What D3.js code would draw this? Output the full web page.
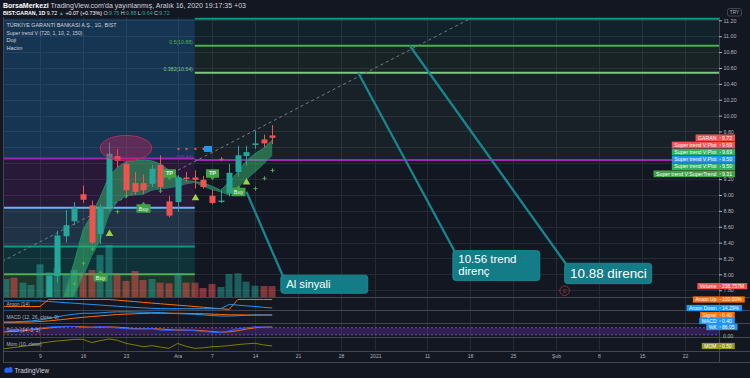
<!DOCTYPE html>
<html>
<head>
<meta charset="utf-8">
<script src="https://cdn.jsdelivr.net/npm/d3@7"></script>
<style>
  html, body { margin: 0; padding: 0; background: #131722; }
  svg { display: block; font-family: "Liberation Sans", Arial, sans-serif; }
</style>
</head>
<body>
<svg id="chart" width="750" height="378"></svg>
<script>
// BIST:GARAN daily bars
const dates = ["2020-11-02","2020-11-03","2020-11-04","2020-11-05","2020-11-06",
  "2020-11-09","2020-11-10","2020-11-11","2020-11-12","2020-11-13",
  "2020-11-16","2020-11-17","2020-11-18","2020-11-19","2020-11-20",
  "2020-11-23","2020-11-24","2020-11-25","2020-11-26","2020-11-27",
  "2020-11-30","2020-12-01","2020-12-02","2020-12-03","2020-12-04",
  "2020-12-07","2020-12-08","2020-12-09","2020-12-10","2020-12-11",
  "2020-12-14","2020-12-15","2020-12-16"];
const open  = [6.05,6.10,6.20,6.18,6.42, 6.95,7.40,7.98,8.48,8.67, 9.01,8.87,8.51,8.85,9.49, 9.39,9.15,9.15,9.14,9.38, 8.92,8.91,9.22,9.22,9.19, 8.99,8.92,9.02,9.29,9.49, 9.63,9.70,9.75];
const high  = [6.15,6.25,6.35,6.45,6.65, 7.30,8.00,8.55,8.81,8.91, 9.12,8.93,8.88,9.66,9.58, 9.42,9.29,9.26,9.38,9.50, 8.99,9.25,9.29,9.31,9.24, 9.07,9.06,9.39,9.62,9.62, 9.81,9.76,9.88];
const low   = [5.95,6.05,6.10,6.15,6.40, 6.90,7.35,7.90,8.40,8.62, 8.90,8.38,8.38,8.80,9.35, 9.00,9.00,9.01,9.10,9.06, 8.72,8.79,9.16,9.08,9.08, 8.88,8.90,8.98,9.23,9.37, 9.58,9.60,9.64];
const close = [6.00,6.20,6.15,6.40,6.60, 7.26,7.98,8.49,8.62,8.84, 8.94,8.40,8.85,9.52,9.43, 9.06,9.04,9.06,9.33,9.10, 8.74,9.22,9.22,9.19,9.10, 8.90,8.93,9.28,9.50,9.54, 9.65,9.65,9.72];
// volume, millions
const volume = [350,396,425,315,264, 719,543,638,484,594, 535,594,924,1144,499, 352,572,374,396,315, 301,521,315,315,198, 286,220,506,521,337, 249,242,238.757];

// Super trend V cloud (two plots) and SuperTrend crosses
const stUpper = [null,null,null,null,null,null,null, 7.45,7.80,8.16,8.56,8.75,8.97,9.23,9.35,9.42,9.43,9.44,9.43,9.39,9.31,9.23,9.18,9.17,9.15,9.11,9.06,9.16,9.29,9.43,9.52,9.59,9.69];
const stLower = [null,null,null,null,null,null,null, 7.17,7.43,7.74,7.97,8.23,8.43,8.75,8.92,8.99,9.00,9.01,9.06,9.08,9.09,9.11,9.14,9.16,9.11,9.07,9.04,9.00,9.09,9.20,9.29,9.39,9.50];
const crossDates  = ["2020-11-13","2020-11-16","2020-11-17","2020-11-20","2020-11-23","2020-11-27","2020-12-14","2020-12-15","2020-12-16"];
const crossPrices = [7.88, 8.14, 8.32, 8.79, 8.99, 9.05, 9.08, 9.21, 9.31];
const redDotDates = ["2020-12-01","2020-12-02","2020-12-03","2020-12-04"];
const redDotPrice = 9.58;
const redCross = {date: "2020-12-08", price: 9.45};
const blueMark = {date: "2020-12-04", price: 9.58};
const triDates  = ["2020-11-19","2020-12-03","2020-12-11"];
const triPrices = [8.52, 8.97, 9.17];
const tpDates  = ["2020-11-30","2020-12-07"];
const tpPrices = [9.18, 9.18];
const buyDates  = ["2020-11-18","2020-11-25","2020-12-10"];
const buyPrices = [8.055, 8.92, 9.13];

// lower panes
const aroonUp   = [29,29,29,29,29,29, 100,100,100,100,100,100,100,100, 93,86,79,71,64,57,50,43,36,29,21,14,7, 0, 100,100,100,100,100];
const aroonDown = [86,86,86,86,86,86, 80,74,68,62,56,50,44,38,32,26,20,15,11,8, 7,7,7,7,7,7,7, 50,43,36,29,21,14.29];
const macdLine  = [0.00,0.00,0.01,0.03,0.06, 0.12,0.20,0.30,0.38,0.45, 0.50,0.50,0.52,0.56,0.58, 0.58,0.57,0.56,0.55,0.54, 0.50,0.48,0.46,0.44,0.41, 0.37,0.34,0.34,0.36,0.38, 0.40,0.40,0.40];
const macdSignal= [-0.02,-0.02,-0.02,-0.01,0.00, 0.03,0.06,0.11,0.16,0.22, 0.27,0.31,0.35,0.39,0.43, 0.45,0.47,0.49,0.50,0.50, 0.50,0.50,0.49,0.48,0.47, 0.45,0.43,0.41,0.41,0.40, 0.40,0.40,0.40];
const stochK = [45,50,55,62,70, 78,86,90,92,90, 82,84,90,86,78, 72,70,72,74,60, 58,62,60,55,48, 42,38,55,72,80, 88,86,86.05];
const stochD = [40,45,50,56,62, 70,78,85,89,91, 88,85,85,87,85, 79,73,71,72,69, 64,60,60,59,54, 48,43,45,55,69, 80,85,87];
const momentum = [-0.5,-0.2,0.1,0.4,0.8, 1.25,1.6,1.9,2.1,2.35, 2.35,1.45,2.0,2.45,2.1, 1.25,0.8,0.3,0.6,0.2, -0.15,1.2,0.4,-0.15,0.0, 0.3,0.4,0.6,0.9,1.1, 1.25,0.8,0.5];

// drawings
const leftFibLevels  = [11.22, 9.46, 8.84, 8.35, 8.00];
const rightFibLevels = [11.22, 10.88, 10.54, 9.44];
const rightFibLabels = ["", "0.5(10.88)", "0.382(10.54)", "0(9.44)"];
const fibSplitDate = "2020-12-03";
const trendFrom = {date: "2020-11-02", price: 8.13};
const trendTo   = {date: "2021-01-18", price: 11.22};
const ellipseBox = {from: "2020-11-18", to: "2020-11-26", top: 9.75, bottom: 9.43};
const callouts = [
  {lines: ["Al sinyali"], fromDate: "2020-12-11", fromPrice: 9.04, boxDate: "2020-12-17", boxPrice: 7.99},
  {lines: ["10.56 trend", "direnç"], fromDate: "2020-12-30", fromPrice: 10.54, boxDate: "2021-01-14", boxPrice: 8.30},
  {lines: ["10.88 direnci"], fromDate: "2021-01-07", fromPrice: 10.88, boxDate: "2021-02-02", boxPrice: 8.14}
];
const eventDate = "2021-02-02";

const priceTicks = [7.8,8.0,8.2,8.4,8.6,8.8,9.0,9.2,9.4,9.6,9.8,10.0,10.2,10.4,10.6,10.8,11.0,11.2];
const xTickDates  = ["2020-11-09","2020-11-16","2020-11-23","2020-12-01","2020-12-07","2020-12-14","2020-12-21","2020-12-28","2021-01-01","2021-01-11","2021-01-18","2021-01-25","2021-02-01","2021-02-08","2021-02-15","2021-02-22"];
const xTickLabels = ["9","16","23","Ara","7","14","21","28","2021","11","18","25","Şub","8","15","22"];

// ---- layout / styles ----
const svg = d3.select("#chart");
const W = 750, H = 378;
const plotL = 3, plotR = 719, mainTop = 17, mainBot = 297;
const paneEdges = [297, 310.3, 323.3, 336.7, 351];
const axisBot = 362;
const upCol = "#26a69a", downCol = "#ef5350";
const gridCol = "#262a35", frameCol = "#434651", textCol = "#b2b5be";

const t0 = new Date(Date.UTC(2020, 10, 2));
function barIndex(s) {
  const d = new Date(s + "T00:00:00Z");
  return d3.utcDays(t0, d).filter(v => v.getUTCDay() % 6 !== 0).length;
}
const x = d3.scaleLinear().domain([0, 84]).range([-3, -3 + 84 * 8.6]);
const y = d3.scaleLinear().domain([7.715, 11.242]).range([mainBot, mainTop]);
const volY = d3.scaleLinear().domain([0, 1200]).range([mainBot, mainBot - 1200 / 22]);
const aroonY = d3.scaleLinear().domain([0, 100]).range([309.4, 299.5]);
const macdY = d3.scaleLinear().domain([0, 0.4]).range([322, 315]);
const stochY = d3.scaleLinear().domain([0, 100]).range([337.2, 325.4]);
const momY = d3.scaleLinear().domain([0, 0.5]).range([347.8, 346]);

const bars = dates.map((d, i) => ({i: barIndex(d), o: open[i], h: high[i], l: low[i], c: close[i], v: volume[i]}));
const px = i => Math.round(x(i));

svg.append("rect").attr("width", W).attr("height", H).attr("fill", "#131722");

const defs = svg.append("defs");
function clip(id, y0, y1) {
  defs.append("clipPath").attr("id", id).append("rect")
    .attr("x", plotL).attr("y", y0).attr("width", plotR - plotL).attr("height", y1 - y0);
  return "url(#" + id + ")";
}
const mainClip = clip("clip-main", mainTop, mainBot);
const paneClips = [0, 1, 2, 3].map(k => clip("clip-pane" + k, paneEdges[k], paneEdges[k + 1]));

// grid
const gridG = svg.append("g");
gridG.selectAll("line.v").data(xTickDates).join("line")
  .attr("x1", d => px(barIndex(d)) + 0.5).attr("x2", d => px(barIndex(d)) + 0.5)
  .attr("y1", mainTop).attr("y2", paneEdges[4])
  .attr("stroke", gridCol);
gridG.selectAll("line.h").data(priceTicks).join("line")
  .attr("x1", plotL).attr("x2", plotR)
  .attr("y1", d => Math.round(y(d)) + 0.5).attr("y2", d => Math.round(y(d)) + 0.5)
  .attr("stroke", gridCol);

const main = svg.append("g").attr("clip-path", mainClip);

// fib zones
const splitX = x(barIndex(fibSplitDate));
const leftFills = ["rgba(33,150,243,0.24)", "rgba(156,39,176,0.16)", "rgba(100,181,246,0.17)", "rgba(0,150,136,0.22)", "rgba(76,175,80,0.2)"];
const leftLineCols = [null, "#9c27b0", "#64b5f6", "#089981", "#4caf50"];
leftFibLevels.forEach((lv, k) => {
  const next = k + 1 < leftFibLevels.length ? leftFibLevels[k + 1] : y.domain()[0];
  main.append("rect").attr("x", plotL).attr("width", splitX - plotL)
    .attr("y", y(lv)).attr("height", y(next) - y(lv)).attr("fill", leftFills[k]);
  if (leftLineCols[k]) main.append("line").attr("x1", plotL).attr("x2", splitX)
    .attr("y1", y(lv)).attr("y2", y(lv)).attr("stroke", leftLineCols[k]).attr("stroke-width", 2);
});
const rightFills = ["rgba(0,150,136,0.09)", "rgba(76,175,80,0.08)", "rgba(129,199,132,0.06)"];
const rightLineCols = ["#089981", "#4caf50", "#81c784", "#9c27b0"];
rightFibLevels.forEach((lv, k) => {
  if (k + 1 < rightFibLevels.length)
    main.append("rect").attr("x", splitX).attr("width", plotR - splitX)
      .attr("y", y(lv)).attr("height", y(rightFibLevels[k + 1]) - y(lv)).attr("fill", rightFills[k]);
});
rightFibLevels.forEach((lv, k) => {
  main.append("line").attr("x1", splitX).attr("x2", plotR)
    .attr("y1", y(lv)).attr("y2", y(lv)).attr("stroke", rightLineCols[k]).attr("stroke-width", 2);
  if (rightFibLabels[k]) main.append("text").attr("x", splitX - 2).attr("y", y(lv) - 1.3)
    .attr("text-anchor", "end").attr("font-size", 5.2).attr("fill", rightLineCols[k]).text(rightFibLabels[k]);
});

// volume
main.append("g").selectAll("rect").data(bars).join("rect")
  .attr("x", d => px(d.i) - 3.5).attr("width", 7)
  .attr("y", d => volY(d.v)).attr("height", d => mainBot - volY(d.v))
  .attr("fill", d => d.c > d.o ? "rgba(38,166,154,0.5)" : "rgba(239,83,80,0.5)");

// super trend cloud
const bandData = bars.map((b, k) => ({i: b.i, u: stUpper[k], l: stLower[k]}));
main.append("path").datum(bandData)
  .attr("d", d3.area().defined(d => d.u != null).x(d => x(d.i)).y0(d => y(d.l)).y1(d => y(d.u)))
  .attr("fill", "rgba(60,185,110,0.5)");
[["u", "#1f8a6a"], ["l", "#1c7a70"]].forEach(([key, col]) => {
  main.append("path").datum(bandData)
    .attr("d", d3.line().defined(d => d[key] != null).x(d => x(d.i)).y(d => y(d[key])))
    .attr("fill", "none").attr("stroke", col).attr("stroke-width", 1);
});

// dashed trend line
main.append("line")
  .attr("x1", x(barIndex(trendFrom.date))).attr("y1", y(trendFrom.price))
  .attr("x2", x(barIndex(trendTo.date))).attr("y2", y(trendTo.price))
  .attr("stroke", "#787b86").attr("stroke-width", 1).attr("stroke-dasharray", "3,3");

// candles
const candleG = main.append("g");
candleG.selectAll("line").data(bars).join("line")
  .attr("x1", d => px(d.i) + 0.5).attr("x2", d => px(d.i) + 0.5)
  .attr("y1", d => y(d.h)).attr("y2", d => y(d.l))
  .attr("stroke", d => d.c > d.o ? upCol : downCol);
candleG.selectAll("rect").data(bars).join("rect")
  .attr("x", d => px(d.i) - 2.5).attr("width", 6)
  .attr("y", d => y(Math.max(d.o, d.c)))
  .attr("height", d => Math.max(1.5, Math.abs(y(d.o) - y(d.c))))
  .attr("fill", d => d.c > d.o ? upCol : downCol);

// ellipse drawing
{
  const x1 = x(barIndex(ellipseBox.from)), x2 = x(barIndex(ellipseBox.to));
  const y1 = y(ellipseBox.top), y2 = y(ellipseBox.bottom);
  main.append("ellipse").attr("cx", (x1 + x2) / 2).attr("cy", (y1 + y2) / 2)
    .attr("rx", (x2 - x1) / 2).attr("ry", (y2 - y1) / 2)
    .attr("fill", "rgba(233,30,99,0.33)").attr("stroke", "#b0305f").attr("stroke-width", 1);
}

// markers
const mk = main.append("g");
mk.selectAll("rect.rd").data(redDotDates).join("rect")
  .attr("x", d => px(barIndex(d)) - 0.5).attr("y", y(redDotPrice) - 1)
  .attr("width", 2).attr("height", 2).attr("fill", "#ef5350");
mk.append("rect").attr("x", px(barIndex(blueMark.date)) + 1).attr("y", y(blueMark.price) - 3)
  .attr("width", 8).attr("height", 6).attr("fill", "#2196f3");
function plus(g, cx, cy, col) {
  g.append("path").attr("d", `M${cx - 2},${cy}H${cx + 2}M${cx},${cy - 2}V${cy + 2}`)
    .attr("stroke", col).attr("stroke-width", 1);
}
plus(mk, px(barIndex(redCross.date)) + 0.5, y(redCross.price), "#ef5350");
crossDates.forEach((d, k) => plus(mk, px(barIndex(d)) + 0.5, y(crossPrices[k]), "#4caf50"));
triDates.forEach((d, k) => {
  const cx = px(barIndex(d)) + 0.5, cy = y(triPrices[k]);
  mk.append("path").attr("d", `M${cx},${cy - 3.5}L${cx + 3.8},${cy + 3}L${cx - 3.8},${cy + 3}Z`).attr("fill", "#9bd33d");
});
tpDates.forEach((d, k) => {
  const cx = px(barIndex(d)) + 0.5, tip = y(tpPrices[k]);
  mk.append("path").attr("d", `M${cx - 6.5},${tip - 11.5}h13v8.5h-4.5l-2,2.5l-2,-2.5h-4.5Z`).attr("fill", "#43a047");
  mk.append("text").attr("x", cx).attr("y", tip - 5.2).attr("text-anchor", "middle")
    .attr("font-size", 5.5).attr("font-weight", "bold").attr("fill", "#e8f5e9").text("TP");
});
buyDates.forEach((d, k) => {
  const cx = px(barIndex(d)) + 0.5, tip = y(buyPrices[k]);
  mk.append("path").attr("d", `M${cx - 7},${tip + 3}h5l2,-2.5l2,2.5h5v8.5h-14Z`).attr("fill", "#43a047");
  mk.append("text").attr("x", cx).attr("y", tip + 9.6).attr("text-anchor", "middle")
    .attr("font-size", 5.5).attr("fill", "#e8f5e9").text("Buy");
});

// event marker
{
  const cx = x(barIndex(eventDate)), cy = mainBot - 6.3;
  main.append("circle").attr("cx", cx).attr("cy", cy).attr("r", 4.8)
    .attr("fill", "none").attr("stroke", "#8a2d3b").attr("stroke-width", 1);
  main.append("text").attr("x", cx).attr("y", cy + 2).attr("text-anchor", "middle")
    .attr("font-size", 5.5).attr("fill", "#8a2d3b").text("E");
}

// callouts
const calloutFont = [11.2, 11.5, 13.4];
const calloutW = 87, calloutCol = "#137c86", calloutLine = "#16868f";
callouts.forEach((c, k) => {
  const x1 = x(barIndex(c.fromDate)), y1 = y(c.fromPrice);
  const bx = x(barIndex(c.boxDate)), by = y(c.boxPrice);
  const fs = calloutFont[k];
  main.append("line").attr("x1", x1).attr("y1", y1).attr("x2", bx + 3).attr("y2", by + 3)
    .attr("stroke", calloutLine).attr("stroke-width", 2.3);
  const h = c.lines.length * fs + 7;
  main.append("rect").attr("x", bx).attr("y", by).attr("width", calloutW).attr("height", h)
    .attr("rx", 3).attr("fill", calloutCol).attr("stroke", "#1a929c").attr("stroke-width", 0.8);
  c.lines.forEach((t, j) => {
    main.append("text").attr("x", bx + 5.5).attr("y", by + 3 + fs * 0.85 + j * fs)
      .attr("font-size", fs).attr("fill", "#ffffff").text(t);
  });
});

// legend in main pane
const legend = ["TÜRKİYE GARANTİ BANKASI A.Ş., 1G, BIST", "Super trend V (720, 1, 10, 2, 150)", "Doji", "Hacim"];
const legendLen = [110, 76, null, null];
svg.append("g").selectAll("text").data(legend).join("text")
  .attr("x", 6.5).attr("y", (d, k) => 27 + k * 7.7)
  .attr("font-size", 5.6).attr("fill", "#d1d4dc")
  .attr("textLength", (d, k) => legendLen[k])
  .attr("lengthAdjust", "spacingAndGlyphs")
  .text(d => d);

// lower panes
const paneG = paneEdges.slice(0, 4).map((e, k) => svg.append("g").attr("clip-path", paneClips[k]));
function series(g, vals, sy, col) {
  g.append("path").datum(vals.map((v, k) => [bars[k].i, v]))
    .attr("d", d3.line().x(d => x(d[0])).y(d => sy(d[1])))
    .attr("fill", "none").attr("stroke", col).attr("stroke-width", 1);
}
series(paneG[0], aroonUp, aroonY, "#ff6d00");
series(paneG[0], aroonDown, aroonY, "#2196f3");
series(paneG[1], macdSignal, macdY, "#ff6d00");
series(paneG[1], macdLine, macdY, "#2196f3");
paneG[2].append("rect").attr("x", plotL).attr("width", plotR - plotL)
  .attr("y", stochY(80)).attr("height", stochY(20) - stochY(80)).attr("fill", "rgba(120,50,200,0.3)");
[80, 20].forEach(v => paneG[2].append("line").attr("x1", plotL).attr("x2", plotR)
  .attr("y1", stochY(v)).attr("y2", stochY(v)).attr("stroke", "#6a5a8a").attr("stroke-dasharray", "2,2"));
series(paneG[2], stochD, stochY, "#ff6d00");
series(paneG[2], stochK, stochY, "#2962ff");
series(paneG[3], momentum, momY, "#808000");

const paneNames = ["Aroon (14)", "MACD (12, 26, close, 9)", "Stoch (14, 3, 3)", "Mom (10, close)"];
svg.append("g").selectAll("text").data(paneNames).join("text")
  .attr("x", 6.5).attr("y", (d, k) => paneEdges[k] + 9)
  .attr("font-size", 4.9).attr("fill", textCol).text(d => d);

// frame
const frame = svg.append("g").attr("stroke", frameCol).attr("stroke-width", 1);
paneEdges.forEach(e => frame.append("line").attr("x1", plotL).attr("x2", W).attr("y1", Math.round(e) + 0.5).attr("y2", Math.round(e) + 0.5));
frame.append("line").attr("x1", plotL).attr("x2", W).attr("y1", axisBot + 0.5).attr("y2", axisBot + 0.5);
frame.append("line").attr("x1", plotL + 0.5).attr("x2", plotL + 0.5).attr("y1", mainTop).attr("y2", axisBot);
frame.append("line").attr("x1", plotR + 0.5).attr("x2", plotR + 0.5).attr("y1", mainTop).attr("y2", axisBot);

// last value tags
function stack(list, gap) {
  list.sort((a, b) => a.y - b.y);
  for (let k = 1; k < list.length; k++) list[k].y = Math.max(list[k].y, list[k - 1].y + gap);
  return list;
}
const last = close.length - 1;
const f2 = d3.format(".2f");
const mainTags = stack([
  {name: "GARAN", value: f2(close[last]), color: "#ef5350", y: y(close[last])},
  {name: "Super trend V:Plot", value: f2(9.69), color: "#ef5350", y: y(9.69) - 0.1},
  {name: "Super trend V:Plot", value: f2(stUpper[last]), color: "#2bb35b", y: y(stUpper[last])},
  {name: "Super trend V:Plot", value: f2(stLower[last]), color: "#2196f3", y: y(stLower[last]) - 0.1},
  {name: "Super trend V:Plot", value: f2(stLower[last]), color: "#2bb35b", y: y(stLower[last])},
  {name: "Super trend V:SuperTrend", value: f2(crossPrices[crossPrices.length - 1]), color: "#43a047", y: y(crossPrices[crossPrices.length - 1])}
], 7.2);
const lowTags = stack([
  {name: "Volume", value: "238.757M", color: "#ef5350", y: volY(volume[last])},
  {name: "Aroon Up", value: f2(aroonUp[last]) + "%", color: "#ff6d00", y: aroonY(aroonUp[last])},
  {name: "Aroon Down", value: f2(aroonDown[last]) + "%", color: "#2196f3", y: aroonY(aroonDown[last])},
  {name: "Signal", value: f2(macdSignal[last]), color: "#ff6d00", y: macdY(macdSignal[last])},
  {name: "MACD", value: f2(macdLine[last]), color: "#2196f3", y: macdY(macdLine[last]) + 0.1},
  {name: "%K", value: f2(stochK[last]), color: "#2196f3", y: stochY(stochK[last])},
  {name: "MOM", value: f2(momentum[last]), color: "#9a9a1e", y: momY(momentum[last])}
], 6);

// price axis (labels hidden where the tags cover them)
const shownTicks = priceTicks.filter(t => !mainTags.some(g => Math.abs(g.y - y(t)) < 5));
const yAxis = svg.append("g").attr("transform", `translate(${plotR},0)`)
  .call(d3.axisRight(y).tickValues(shownTicks).tickFormat(d3.format(".2f")).tickSize(3).tickPadding(1.5));
yAxis.select(".domain").remove();
yAxis.selectAll("line").attr("stroke", textCol);
yAxis.selectAll("text").attr("fill", textCol).attr("font-size", 5.3).attr("font-family", null);
svg.append("text").attr("x", 723).attr("y", 338.3).attr("font-size", 5.3).attr("fill", textCol).text("0.00");
svg.append("rect").attr("x", 727.5).attr("y", 8.5).attr("width", 14).attr("height", 7.5).attr("rx", 2)
  .attr("fill", "#131722").attr("stroke", frameCol);
svg.append("text").attr("x", 734.5).attr("y", 14.2).attr("text-anchor", "middle").attr("font-size", 4.8).attr("fill", textCol).text("TRY");

// time axis
const xAxis = svg.append("g").attr("transform", `translate(0,${paneEdges[4]})`)
  .call(d3.axisBottom(x).tickValues(xTickDates.map(barIndex)).tickFormat((d, k) => xTickLabels[k]).tickSize(0).tickPadding(3.8));
xAxis.select(".domain").remove();
xAxis.selectAll("text").attr("fill", textCol).attr("font-size", 5).attr("font-family", null);

function valueTags(list, h, fs) {
  list.forEach(t => {
    const g = svg.append("g");
    const nt = g.append("text").attr("font-size", fs).attr("fill", "#fff").text(t.name);
    const vt = g.append("text").attr("font-size", fs).attr("fill", "#fff").text(t.value);
    const nw = nt.node().getComputedTextLength() + 5, vw = vt.node().getComputedTextLength() + 5;
    g.insert("rect", "text").attr("x", plotR - nw).attr("y", t.y - h / 2).attr("width", nw + vw + 1).attr("height", h).attr("fill", t.color);
    nt.attr("x", plotR - nw + 2.5).attr("y", t.y + fs * 0.36);
    vt.attr("x", plotR + 3).attr("y", t.y + fs * 0.36);
    g.append("line").attr("x1", plotR + 0.5).attr("x2", plotR + 2).attr("y1", t.y).attr("y2", t.y).attr("stroke", "#fff").attr("stroke-width", 0.6);
  });
}
valueTags(mainTags, 6.8, 5.2);
valueTags(lowTags, 6.2, 5);

// header
const h1 = svg.append("text").attr("x", 3).attr("y", 7.5).attr("font-size", 7).attr("fill", "#d1d4dc")
  .attr("textLength", 243).attr("lengthAdjust", "spacingAndGlyphs");
h1.append("tspan").attr("font-weight", "bold").attr("fill", "#fff").text("BorsaMerkezi");
h1.append("tspan").text(" TradingView.com'da yayınlanmış, Aralık 16, 2020 19:17:35 +03");
const h2 = svg.append("text").attr("x", 3).attr("y", 15).attr("font-size", 5.3).attr("fill", "#d1d4dc");
const green = "#26a69a";
[["BIST:GARAN, 1D", "#fff", "bold"], [" 9.72 ", "#fff"], ["▲", green], [" +0.07 (+0.73%) ", "#fff"],
 ["O:", "#d1d4dc"], ["9.75", green], [" H:", "#d1d4dc"], ["9.88", green], [" L:", "#d1d4dc"], ["9.64", green],
 [" C:", "#d1d4dc"], ["9.72", green]].forEach(([t, c, w]) => {
  h2.append("tspan").attr("fill", c).attr("font-weight", w || null).text(t);
});

// footer logo
const logo = svg.append("g").attr("fill", "#2962ff");
logo.append("circle").attr("cx", 7).attr("cy", 370).attr("r", 2.6);
logo.append("circle").attr("cx", 10.3).attr("cy", 369.2).attr("r", 2.2);
logo.append("rect").attr("x", 4.4).attr("y", 370).attr("width", 8.2).attr("height", 2.6).attr("rx", 1.2);
svg.append("text").attr("x", 14.5).attr("y", 372.6).attr("font-size", 6.3).attr("fill", "#d1d4dc").text("TradingView");
</script>
</body>
</html>
